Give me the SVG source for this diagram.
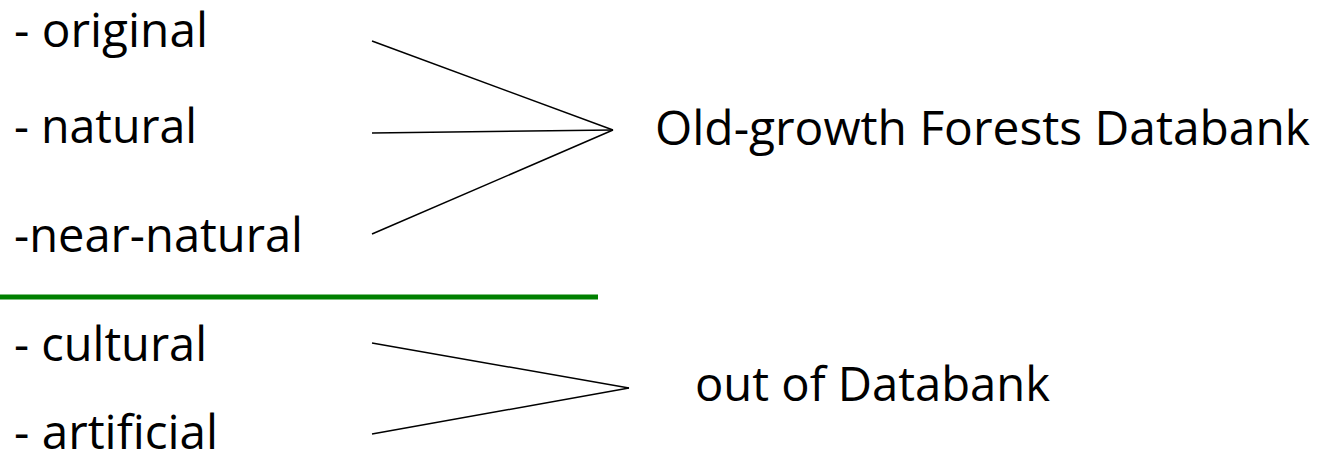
<svg xmlns="http://www.w3.org/2000/svg" width="1317" height="454" viewBox="0 0 1317 454">
<style>
text{font-family:"Open Sans","Noto Sans",sans-serif;font-size:48px;fill:#000}
.c{stroke:#000;stroke-width:1.5;fill:none}
</style>
<rect width="1317" height="454" fill="#fff"/>
<g id="original"><text x="14" y="47" textLength="194" lengthAdjust="spacingAndGlyphs">- original</text></g>
<g id="natural"><text x="14" y="143" textLength="183" lengthAdjust="spacingAndGlyphs">- natural</text></g>
<g id="near-natural"><text x="14" y="252" textLength="289" lengthAdjust="spacingAndGlyphs">-near-natural</text></g>
<g id="cultural"><text x="14" y="361" textLength="193" lengthAdjust="spacingAndGlyphs">- cultural</text></g>
<g id="artificial"><text x="14" y="449" textLength="204" lengthAdjust="spacingAndGlyphs">- artificial</text></g>
<g id="databank"><text x="655" y="145" textLength="655" lengthAdjust="spacingAndGlyphs">Old-growth Forests Databank</text></g>
<g id="outofdatabank"><text x="695" y="401" textLength="355" lengthAdjust="spacingAndGlyphs">out of Databank</text></g>
<g id="divider"><line x1="0" y1="297" x2="598" y2="297" stroke="#008000" stroke-width="5"/></g>
<g id="connectors">
<line class="c" x1="372" y1="41" x2="613" y2="130"/>
<line class="c" x1="372" y1="133" x2="613" y2="130"/>
<line class="c" x1="372" y1="234" x2="613" y2="130"/>
<line class="c" x1="372" y1="343" x2="629" y2="388"/>
<line class="c" x1="372" y1="434" x2="629" y2="388"/>
</g>
</svg>
